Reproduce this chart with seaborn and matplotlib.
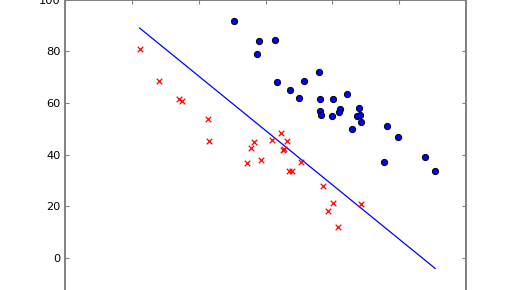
import numpy as np
import pandas as pd
import matplotlib
matplotlib.use("Agg")
import matplotlib.pyplot as plt
import seaborn as sns

# Positive class (blue circles)
pos_x = [45.24, 49.03, 51.47, 48.73, 58.05, 51.72, 55.76, 53.62, 55.06, 58.08,
         58.16, 58.31, 60.15, 62.20, 59.91, 61.10, 61.04, 64.04, 63.62, 64.14,
         64.34, 62.99, 68.18, 69.87, 67.78, 73.82, 75.41]
pos_y = [91.8, 83.9, 84.2, 78.9, 71.8, 68.2, 68.6, 64.9, 61.9, 61.6,
         57.0, 55.2, 61.5, 63.3, 54.8, 57.8, 56.6, 58.2, 55.0, 55.3,
         52.5, 49.9, 51.2, 46.7, 37.0, 39.0, 33.8]

# Negative class (red crosses)
neg_x = [31.15, 34.11, 37.10, 37.55, 41.44, 41.59, 48.28, 47.83, 47.28, 49.36,
         50.93, 52.28, 53.19, 52.55, 52.77, 55.34, 53.49, 53.97, 58.61, 60.10,
         59.38, 60.92, 64.25]
neg_y = [81.0, 68.5, 61.5, 60.6, 53.8, 45.3, 44.8, 42.6, 36.8, 37.8,
         45.5, 48.2, 45.1, 41.7, 42.1, 37.3, 33.5, 33.8, 27.9, 21.2,
         18.2, 11.9, 20.9]

# Decision boundary parameters: y = intercept + slope * x
boundary_intercept = 154.5
boundary_slope = -2.103

x_ticks = [20, 30, 40, 50, 60, 70, 80]
y_ticks = [0, 20, 40, 60, 80, 100]

sns.set_style("white")
plt.rcParams['font.family'] = ['DejaVu Sans']

W, H = 516, 290
fig = plt.figure(figsize=(W / 100, H / 100), dpi=100)
# axes extends below the visible figure (cropped look)
ax_left, ax_right = 65 / W, 466 / W
ax_top_px = -0.5
ax_bot_px = 309.7
ax = fig.add_axes([ax_left, (H - ax_bot_px) / H, ax_right - ax_left, (ax_bot_px - ax_top_px) / H])

pos_df = pd.DataFrame({"x": pos_x, "y": pos_y})
neg_df = pd.DataFrame({"x": neg_x, "y": neg_y})

all_x = np.array(pos_x + neg_x)
bx = np.array([all_x.min(), all_x.max()])
line_df = pd.DataFrame({"x": bx, "y": boundary_intercept + boundary_slope * bx})

sns.lineplot(data=line_df, x="x", y="y", ax=ax, color="#0000ff", linewidth=0.9, zorder=1)
sns.scatterplot(data=pos_df, x="x", y="y", ax=ax, marker="o", color="#0000ff",
                edgecolor="black", linewidth=0.7, s=20, zorder=3)
sns.scatterplot(data=neg_df, x="x", y="y", ax=ax, marker="x", color="#ff0000",
                linewidth=0.9, s=16, zorder=3)

ax.set_xlim(20, 80)
ax.set_ylim(-20, 100)
ax.set_xticks(x_ticks)
ax.set_yticks(y_ticks)
ax.set_xlabel("")
ax.set_ylabel("")

for sp in ax.spines.values():
    sp.set_color("#808080")
    sp.set_linewidth(1.4)
    sp.set_visible(True)

ax.tick_params(axis="both", which="both", direction="in", length=3, width=0.8,
               color="#808080", top=True, right=True, bottom=True, left=True,
               labelsize=8.2, pad=3, labelcolor="black")
ax.tick_params(axis="x", labelbottom=False)

fig.savefig("out.png", dpi=100)
